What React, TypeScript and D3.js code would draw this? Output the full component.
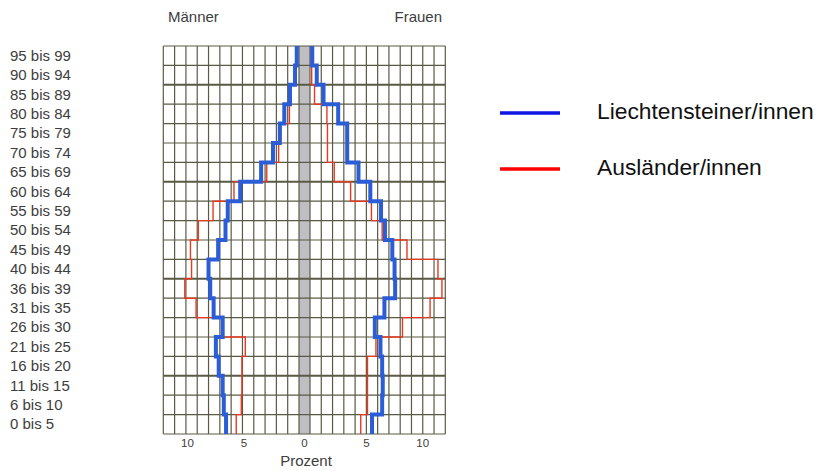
import React from 'react';
import * as d3 from 'd3';

const ageGroups = [
  '95 bis 99', '90 bis 94', '85 bis 89', '80 bis 84', '75 bis 79',
  '70 bis 74', '65 bis 69', '60 bis 64', '55 bis 59', '50 bis 54',
  '45 bis 49', '40 bis 44', '36 bis 39', '31 bis 35', '26 bis 30',
  '21 bis 25', '16 bis 20', '11 bis 15', '6 bis 10', '0 bis 5',
];

// Prozent, Männer (links)
const menLiechtenstein = [0.2, 0.35, 0.8, 1.3, 1.7, 2.3, 3.35, 5.2, 6.3, 6.5, 7.15, 8.0, 7.85, 7.55, 6.75, 7.35, 7.1, 6.75, 6.65, 6.45];
const menAuslaender = [0.2, 0.35, 0.7, 0.85, 1.6, 1.8, 2.85, 5.75, 7.6, 8.9, 9.6, 9.5, 10.1, 9.1, 6.75, 4.75, 5.05, 5.05, 5.1, 5.55];

// Prozent, Frauen (rechts)
const womenLiechtenstein = [0.2, 0.6, 1.2, 2.5, 3.3, 3.3, 4.3, 5.35, 6.3, 6.65, 7.3, 7.5, 7.55, 6.6, 5.75, 6.25, 6.4, 6.45, 6.4, 5.5];
const womenAuslaender = [0.1, 0.15, 0.4, 1.5, 1.55, 1.55, 2.15, 3.6, 5.45, 6.4, 8.6, 11.35, 11.7, 10.65, 8.2, 5.85, 5.1, 5.1, 5.1, 4.5];

const sideTicks = [10, 5];
const centerTick = 0;
const legendLabels = ['Liechtensteiner/innen', 'Ausländer/innen'];
const sexLabels = ['Männer', 'Frauen'];
const axisTitle = 'Prozent';

const W = 829;
const H = 471;
const FONT = '"Liberation Sans", Arial, sans-serif';

const COLORS = {
  grid: '#5a5a44',
  band: '#bfbfc3',
  blue: '#2b5dd6',
  red: '#e8391f',
  legendBlue: '#0d14e4',
  legendRed: '#ff0000',
  text: '#3d3d3d',
};

export default function App() {
  const y = d3.scaleBand<string>().domain(ageGroups).range([46, 434]).padding(0);
  const xL = d3.scaleLinear().domain([0, 12]).range([299, 163.3]);
  const xR = d3.scaleLinear().domain([0, 12]).range([310, 445.3]);
  const bw = y.bandwidth();

  const line = d3.line<[number, number]>();
  const stepPath = (vals: number[], xs: d3.ScaleLinear<number, number>) => {
    const pts: [number, number][] = [];
    vals.forEach((v, i) => {
      const y0 = y(ageGroups[i]) as number;
      pts.push([xs(v), y0]);
      pts.push([xs(v), y0 + bw]);
    });
    return line(pts) || '';
  };

  const cols = d3.range(0, 13);
  const rowLines = d3.range(0, ageGroups.length + 1).map((i) => 46 + i * bw);
  const top = 46;
  const bottom = 434;
  const center = (xL(0) + xR(0)) / 2;

  return (
    <svg
      width={W}
      height={H}
      style={{ position: 'absolute', left: 0, top: 0, background: '#fff' }}
      fontFamily={FONT}
    >
      <rect x={0} y={0} width={W} height={H} fill="#fff" />

      {/* grey zero band */}
      <rect x={xL(0)} y={top} width={xR(0) - xL(0)} height={bottom - top} fill={COLORS.band} />

      {/* grid */}
      {cols.map((c) => (
        <g key={'c' + c}>
          <line x1={xL(c)} x2={xL(c)} y1={top} y2={bottom} stroke={COLORS.grid} strokeWidth={1.2} />
          <line x1={xR(c)} x2={xR(c)} y1={top} y2={bottom} stroke={COLORS.grid} strokeWidth={1.2} />
        </g>
      ))}
      {rowLines.map((yy, i) => (
        <line
          key={'r' + i}
          x1={xL(12)}
          x2={xR(12)}
          y1={yy}
          y2={yy}
          stroke={COLORS.grid}
          strokeWidth={i % 5 === 2 ? 2 : 1.2}
        />
      ))}

      {/* step lines */}
      <path d={stepPath(menAuslaender, xL)} fill="none" stroke={COLORS.red} strokeWidth={1.4} />
      <path d={stepPath(womenAuslaender, xR)} fill="none" stroke={COLORS.red} strokeWidth={1.4} />
      <path d={stepPath(menLiechtenstein, xL)} fill="none" stroke={COLORS.blue} strokeWidth={4} />
      <path d={stepPath(womenLiechtenstein, xR)} fill="none" stroke={COLORS.blue} strokeWidth={4} />

      {/* age labels */}
      {ageGroups.map((a) => (
        <text
          key={a}
          x={10}
          y={(y(a) as number) + bw / 2 + 5}
          fontSize={15}
          fill={COLORS.text}
        >
          {a}
        </text>
      ))}

      {/* header */}
      <text x={168} y={22} fontSize={15} fill={COLORS.text}>{sexLabels[0]}</text>
      <text x={442} y={22} fontSize={15} fill={COLORS.text} textAnchor="end">{sexLabels[1]}</text>

      {/* x ticks */}
      {sideTicks.map((t) => (
        <g key={'t' + t}>
          <text x={xL(t) + 1.5} y={447} fontSize={11.5} fill={COLORS.text} textAnchor="middle">{t}</text>
          <text x={xR(t)} y={447} fontSize={11.5} fill={COLORS.text} textAnchor="middle">{t}</text>
        </g>
      ))}
      <text x={center} y={447} fontSize={11.5} fill={COLORS.text} textAnchor="middle">{centerTick}</text>
      <text x={306} y={466} fontSize={15} fill={COLORS.text} textAnchor="middle">{axisTitle}</text>

      {/* legend */}
      <line x1={500} x2={560} y1={113} y2={113} stroke={COLORS.legendBlue} strokeWidth={3.5} />
      <text x={597} y={118.5} fontSize={22.8} fill="#111">{legendLabels[0]}</text>
      <line x1={500} x2={560} y1={169} y2={169} stroke={COLORS.legendRed} strokeWidth={3.5} />
      <text x={597} y={175} fontSize={22.8} fill="#111">{legendLabels[1]}</text>
    </svg>
  );
}
